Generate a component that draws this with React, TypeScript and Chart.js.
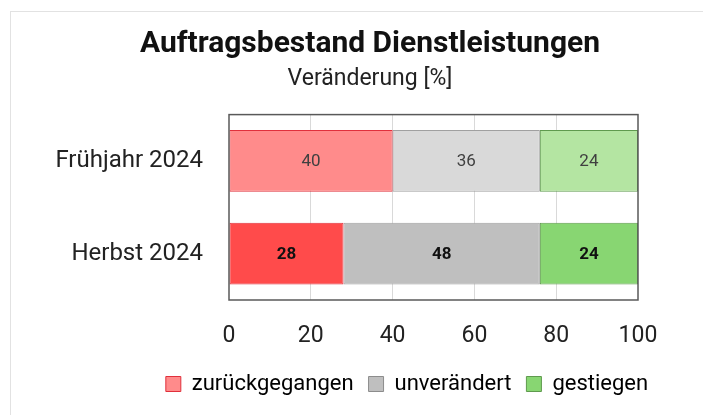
import React, { useEffect, useRef } from 'react';
import { Chart, registerables } from 'chart.js';

Chart.register(...registerables);

const categories = ['Frühjahr 2024', 'Herbst 2024'];
const seriesNames = ['zurückgegangen', 'unverändert', 'gestiegen'];
const zurueckgegangen = [40, 28];
const unveraendert = [36, 48];
const gestiegen = [24, 24];
const xTickValues = [0, 20, 40, 60, 80, 100];
const titleText = 'Auftragsbestand Dienstleistungen';
const subtitleText = 'Veränderung [%]';

const FONT = 'Roboto';

const redFill = ['#FF8B8B', '#FF4B4B'];
const greyFill = ['#D9D9D9', '#BFBFBF'];
const greenFill = ['#B4E5A2', '#88D672'];
const redBorder = '#E0303C';
const greyBorder = '#A0A0A0';
const greenBorder = '#5F9A4E';
const legendFill = ['#FF8B8B', '#BFBFBF', '#88D672'];
const legendStroke = [redBorder, '#8C8C8C', greenBorder];

const TITLE_SHIFT = 51;
const LEGEND_SHIFT = 88;

const framePlugin = {
  id: 'frameAndLabels',
  afterLayout(chart: any) {
    chart.boxes.forEach((b: any) => {
      if (b === chart.legend) {
        b.left += LEGEND_SHIFT;
        b.right += LEGEND_SHIFT;
      } else if (b.options && typeof b.options.text === 'string' && !b.axis) {
        b.left += TITLE_SHIFT;
        b.right += TITLE_SHIFT;
      }
    });
  },
  afterDatasetsDraw(chart: any) {
    const { ctx, chartArea: a } = chart;
    ctx.save();
    chart.data.datasets.forEach((ds: any, di: number) => {
      const meta = chart.getDatasetMeta(di);
      meta.data.forEach((el: any, i: number) => {
        const p = el.getProps(['x', 'y', 'base'], true);
        const cx = (p.x + p.base) / 2;
        ctx.font = (i === 0 ? '' : 'bold ') + '17px ' + FONT;
        ctx.fillStyle = i === 0 ? '#404040' : '#111111';
        ctx.textAlign = 'center';
        ctx.textBaseline = 'middle';
        ctx.fillText(String(ds.data[i]), cx, p.y + 1);
      });
    });
    ctx.strokeStyle = '#595959';
    ctx.lineWidth = 1.5;
    ctx.strokeRect(a.left, a.top, a.right - a.left, a.bottom - a.top);
    ctx.restore();
  },
};

export default function App() {
  const ref = useRef<HTMLCanvasElement | null>(null);
  useEffect(() => {
    if (!ref.current) return;
    const chart = new Chart(ref.current, {
      type: 'bar',
      data: {
        labels: categories,
        datasets: [
          { label: seriesNames[0], data: zurueckgegangen, backgroundColor: redFill, borderColor: redBorder, borderWidth: 1, borderSkipped: false },
          { label: seriesNames[1], data: unveraendert, backgroundColor: greyFill, borderColor: greyBorder, borderWidth: 1, borderSkipped: false },
          { label: seriesNames[2], data: gestiegen, backgroundColor: greenFill, borderColor: greenBorder, borderWidth: 1, borderSkipped: false },
        ],
      },
      options: {
        indexAxis: 'y',
        responsive: false,
        animation: false,
        categoryPercentage: 0.667,
        barPercentage: 1,
        layout: { padding: { top: 0, left: 0, right: 65, bottom: 10 } },
        scales: {
          x: {
            stacked: true,
            min: 0,
            max: 100,
            afterBuildTicks: (scale: any) => {
              scale.ticks = xTickValues.map((v) => ({ value: v }));
            },
            afterFit: (scale: any) => {
              scale.height = 58;
            },
            grid: {
              color: (c: any) => (c.tick && (c.tick.value === 0 || c.tick.value === 100) ? 'rgba(0,0,0,0)' : '#D9D9D9'),
              lineWidth: 1,
              drawTicks: false,
            },
            border: { display: false },
            ticks: { font: { family: FONT, size: 23 }, color: '#222222', padding: 22 },
          },
          y: {
            stacked: true,
            afterFit: (scale: any) => {
              scale.width = 229;
            },
            grid: { display: false, drawTicks: false },
            border: { display: false },
            ticks: { font: { family: FONT, size: 24 }, color: '#222222', padding: 26 },
          },
        },
        plugins: {
          title: {
            display: true,
            text: titleText,
            font: { family: FONT, size: 30, weight: 'bold' },
            color: '#111111',
            padding: { top: 26, bottom: 3 },
          },
          subtitle: {
            display: true,
            text: subtitleText,
            font: { family: FONT, size: 23 },
            color: '#222222',
            padding: { top: 0, bottom: 22 },
          },
          legend: {
            position: 'bottom',
            labels: {
              boxWidth: 15,
              boxHeight: 15,
              padding: 15,
              font: { family: FONT, size: 22 },
              color: '#222222',
              generateLabels: () =>
                seriesNames.map((n, i) => ({
                  text: n,
                  fillStyle: legendFill[i],
                  strokeStyle: legendStroke[i],
                  lineWidth: 1,
                  hidden: false,
                  datasetIndex: i,
                })),
            },
          },
          tooltip: { enabled: false },
        },
      } as any,
      plugins: [framePlugin],
    });
    return () => chart.destroy();
  }, []);

  return (
    <div style={{ position: 'absolute', left: 0, top: 0, width: 703, height: 415, overflow: 'hidden', background: '#fff' }}>
      <div
        style={{
          position: 'absolute',
          left: 10,
          top: 11,
          width: 720,
          height: 420,
          borderTop: '1px solid #E2E2E2',
          borderLeft: '1px solid #E2E2E2',
        }}
      />
      <canvas ref={ref} width={703} height={415} style={{ position: 'absolute', left: 0, top: 0 }} />
    </div>
  );
}
